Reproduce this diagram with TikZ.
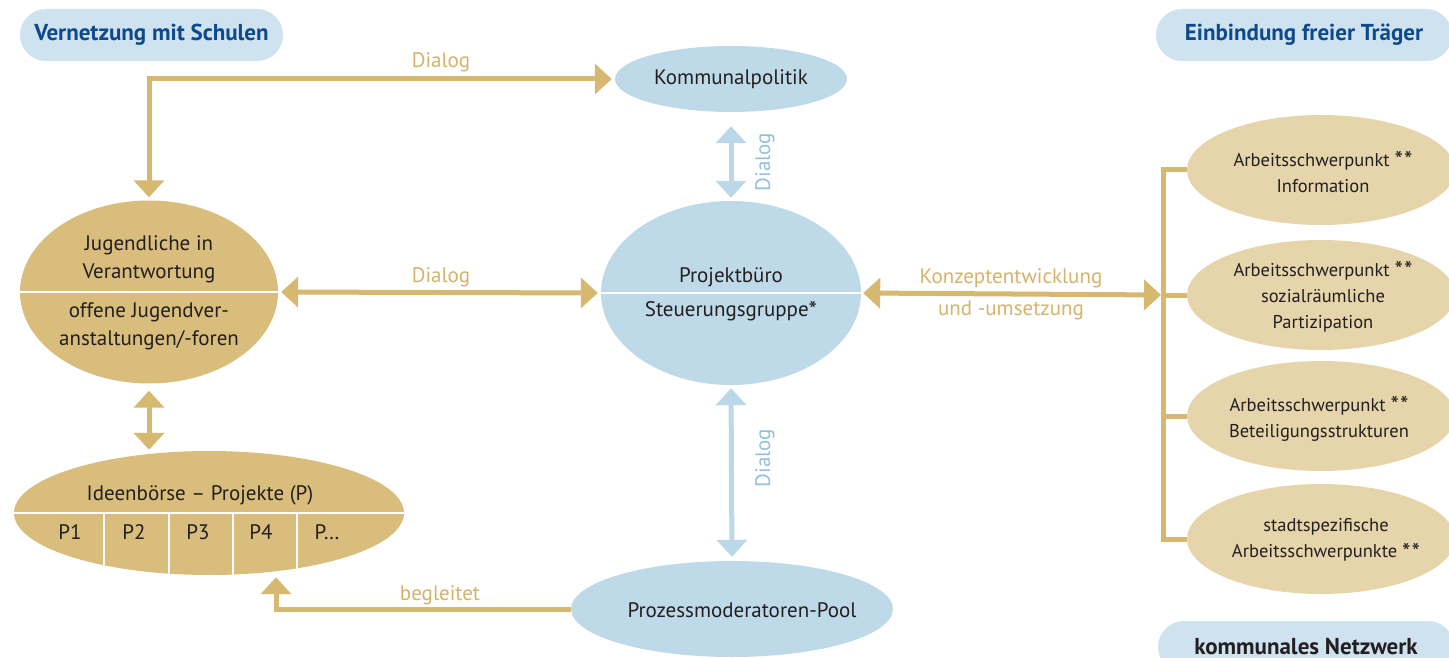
\documentclass[tikz,border=0pt]{standalone}
\usepackage{fontspec}
\setmainfont{PT Sans}
\usetikzlibrary{shapes.geometric,arrows.meta}
\definecolor{tanfill}{HTML}{D9BD7D}
\definecolor{tanlight}{HTML}{E6D5AB}
\definecolor{tanline}{HTML}{D6B870}
\definecolor{tantext}{HTML}{D4B36B}
\definecolor{bluefill}{HTML}{BEDAE9}
\definecolor{bluepill}{HTML}{CFE2EF}
\definecolor{bluearrow}{HTML}{BBD8E9}
\definecolor{bluetext}{HTML}{93C0DA}
\definecolor{navy}{HTML}{0E4A8B}
\definecolor{ink}{HTML}{231F20}
\newcommand{\bigast}{{\fontsize{24}{24}\selectfont\raisebox{-2.5pt}{*}}}
\newcommand{\twoast}{\ \bigast\kern1pt\bigast}
\begin{document}
\begin{tikzpicture}[x=1pt,y=1pt]
	\tikzset{txt/.style = {font=\fontsize{21}{28}\selectfont, text=ink, align=center}}
	\tikzset{small/.style = {font=\fontsize{18.5}{26}\selectfont, text=ink, align=center}}
	\tikzset{lbl/.style = {font=\fontsize{21}{32}\selectfont, text=tantext, align=center}}
	\tikzset{pill/.style = {shape=rectangle, rounded corners=26pt, fill=bluepill, minimum height=52pt, font=\fontsize{23}{27}\selectfont\bfseries, text=navy}}
	\tikzset{ell/.style = {shape=ellipse, inner sep=0pt}}
	\tikzset{divider/.style = {draw=white, line width=2.2pt}}
	\tikzset{tanedge/.style = {draw=tanline, line width=5pt, {Triangle[width=30pt,length=17pt]}-{Triangle[width=30pt,length=17pt]}}}
	\tikzset{tanone/.style = {draw=tanline, line width=5pt, -{Triangle[width=30pt,length=17pt]}}}
	\tikzset{blueedge/.style = {draw=bluearrow, line width=5pt, {Triangle[width=30pt,length=17pt]}-{Triangle[width=30pt,length=17pt]}}}
	\useasboundingbox (0,0) rectangle (1449,-658);
	% headers
	\node[pill, minimum width=263pt] (schulen) at (151.5,-35) {Vernetzung mit Schulen};
	\node[pill, minimum width=296pt] (traeger) at (1304,-35) {Einbindung freier Träger};
	\node[pill, minimum width=296pt, text=ink] (netz) at (1306,-647) {kommunales Netzwerk};
	% blue ellipses
	\node[ell, fill=bluefill, minimum width=232pt, minimum height=66pt] (komm) at (731,-79) {};
	\node[txt] (kommtxt) at (731,-79) {Kommunalpolitik};
	\node[ell, fill=bluefill, minimum width=260pt, minimum height=184pt] (pb) at (731,-293) {};
	\draw[divider] (pb.west) -- (pb.east);
	\node[txt] (pbtop) at (731,-277) {Projektbüro};
	\node[txt] (pbbot) at (731,-311) {Steuerungsgruppe\bigast};
	\node[ell, fill=bluefill, minimum width=322pt, minimum height=96pt] (pool) at (732,-609) {};
	\node[txt] (pooltxt) at (742,-610) {Prozessmoderatoren-Pool};
	% left side
	\node[ell, fill=tanfill, minimum width=258pt, minimum height=183pt] (jug) at (149,-292) {};
	\draw[divider] (jug.west) -- (jug.east);
	\node[txt] (jugtop) at (149,-259) {Jugendliche in\\Verantwortung};
	\node[txt] (jugbot) at (149,-326) {offene Jugendver-\\anstaltungen/-foren};
	\node[ell, fill=tanfill, minimum width=390pt, minimum height=124pt] (ideen) at (209,-513) {};
	\draw[divider] (ideen.west) -- (ideen.east);
	\begin{scope}
		\clip (209,-513) ellipse [x radius=195, y radius=62];
		\foreach \x in {104,169,233,297}
			\draw[divider] (\x,-513) -- (\x,-590);
	\end{scope}
	\node[txt] (ideentxt) at (200,-495) {Ideenbörse -- Projekte (P)};
	\foreach \x/\t [count=\i] in {70/P1,134/P2,198/P3,261/P4,327/P\dots}
		\node[txt] (p\i) at (\x,-532) {\t};
	% right side
	\node[ell, fill=tanlight, minimum width=268pt, minimum height=110pt] (as1) at (1321,-170) {};
	\node[small] (as1txt) at (1323,-172) {Arbeitsschwerpunkt\twoast\\Information};
	\node[ell, fill=tanlight, minimum width=268pt, minimum height=110pt] (as2) at (1321,-295) {};
	\node[small] (as2txt) at (1323,-297) {Arbeitsschwerpunkt\twoast\\sozialräumliche\\Partizipation};
	\node[ell, fill=tanlight, minimum width=268pt, minimum height=110pt] (as3) at (1321,-416) {};
	\node[small] (as3txt) at (1319,-419) {Arbeitsschwerpunkt\twoast\\Beteiligungsstrukturen};
	\node[ell, fill=tanlight, minimum width=268pt, minimum height=110pt] (as4) at (1321,-539) {};
	\node[small] (as4txt) at (1326,-540) {stadtspezifische\\Arbeitsschwerpunkte\twoast};
	\coordinate (bt) at (1163,-170);
	\coordinate (bb) at (1163,-539);
	\draw[tanline, line width=5pt] (as1.west) -- (bt) -- (bb) -- (as4.west);
	\draw[tanline, line width=5pt] (as2.west) -- (as2.west -| bt);
	\draw[tanline, line width=5pt] (as3.west) -- (as3.west -| bt);
	% connectors
	\draw[tanedge, shorten <=3pt, shorten >=3pt] (komm.west) -| (jug.north);
	\draw[tanedge, shorten <=3pt, shorten >=3pt] (jug.east) -- (pb.west);
	\draw[tanedge, shorten <=2pt, shorten >=2pt] (pb.east) -- (as2.west -| bt);
	\draw[tanedge, shorten <=7pt, shorten >=1pt] (jug.south) -- (jug.south |- ideen.north);
	\draw[tanone, shorten >=2pt] (pool.west) -| ([xshift=67pt]ideen.south);
	\draw[blueedge, shorten <=14pt, shorten >=3pt] (komm.south) -- (pb.north);
	\draw[blueedge, shorten <=3pt, shorten >=4pt] (pb.south) -- (pool.north);
	% labels
	\node[lbl] (d1) at (441,-62) {Dialog};
	\node[lbl] (d2) at (441,-277) {Dialog};
	\node[lbl] (konz) at (1011,-294) {Konzeptentwicklung\\und -umsetzung};
	\node[lbl] (begl) at (440,-595) {begleitet};
	\node[lbl, text=bluetext, rotate=90] (d3) at (765,-162) {Dialog};
	\node[lbl, text=bluetext, rotate=90] (d4) at (765,-458) {Dialog};
\end{tikzpicture}
\end{document}
